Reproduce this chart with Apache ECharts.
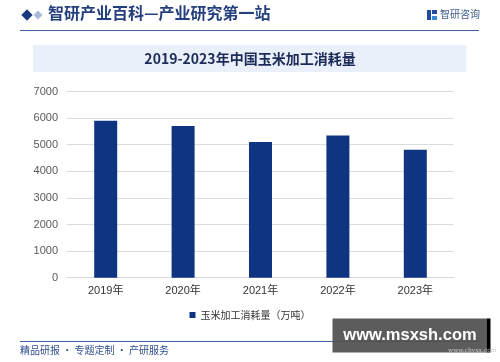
<!DOCTYPE html>
<html>
<head>
<meta charset="utf-8">
<script src="https://cdn.jsdelivr.net/npm/echarts@6/dist/echarts.min.js"></script>
<style>
html,body{margin:0;padding:0;background:#fff;}
#chart{width:500px;height:362px;}
</style>
</head>
<body>
<div id="chart"></div>
<script>
var categories = ['2019年', '2020年', '2021年', '2022年', '2023年'];
var consumption = [5900, 5700, 5100, 5350, 4810];
var seriesName = '玉米加工消耗量（万吨）';
var yTicks = { min: 0, max: 7000, interval: 1000 };
var chartTitle = '2019-2023年中国玉米加工消耗量';
var headerTitle = '智研产业百科—产业研究第一站';
var footerText = '精品研报 · 专题定制 · 产研服务';

var chart = echarts.init(document.getElementById('chart'), null, { renderer: 'canvas' });
var cjk = '"Noto Sans CJK SC", "Noto Sans", sans-serif';

chart.setOption({
  backgroundColor: '#ffffff',
  animation: false,
  textStyle: { fontFamily: cjk },
  grid: { left: 67, right: 46, top: 91.5, bottom: 84.3, containLabel: false },
  legend: {
    data: [seriesName],
    left: 'center',
    top: 305,
    itemWidth: 6,
    itemHeight: 6,
    itemGap: 4,
    icon: 'rect',
    textStyle: { fontSize: 10, color: '#333333', fontFamily: cjk }
  },
  xAxis: {
    type: 'category',
    data: categories,
    axisLine: { show: true, lineStyle: { color: '#d9d9d9' } },
    axisTick: { show: false },
    axisLabel: { color: '#333333', fontSize: 11, margin: 8, fontFamily: 'Arial, "Liberation Sans", ' + cjk }
  },
  yAxis: {
    type: 'value',
    min: yTicks.min,
    max: yTicks.max,
    interval: yTicks.interval,
    axisLine: { show: false },
    axisTick: { show: false },
    axisLabel: { color: '#595959', fontSize: 11, margin: 9, fontFamily: 'Arial, "Liberation Sans", sans-serif',
      formatter: function (v) { return String(v); } },
    splitLine: { lineStyle: { color: '#dcdcdc', width: 1 } }
  },
  series: [{
    name: seriesName,
    type: 'bar',
    data: consumption,
    barWidth: 23,
    itemStyle: { color: '#0f3482' }
  }],
  graphic: [
    { type: 'rect', shape: { x: -4, y: -4, width: 8, height: 8 }, x: 27, y: 15, rotation: Math.PI / 4,
      style: { fill: '#1a3a80' }, silent: true },
    { type: 'rect', shape: { x: -3.2, y: -3.2, width: 6.4, height: 6.4 }, x: 38, y: 15, rotation: Math.PI / 4,
      style: { fill: '#a9b9dc' }, silent: true },
    { type: 'text', left: 48, top: 5,
      style: { text: headerTitle, fill: '#243f7d', font: 'bold 16px ' + cjk } },
    { type: 'rect', shape: { x: 427, y: 10, width: 4, height: 10 }, style: { fill: '#1f4c9c' } },
    { type: 'rect', shape: { x: 432, y: 10, width: 5, height: 4 }, style: { fill: '#1f4c9c' } },
    { type: 'rect', shape: { x: 432, y: 16, width: 5, height: 4 }, style: { fill: '#3a86d8' } },
    { type: 'text', left: 440, top: 9,
      style: { text: '智研咨询', fill: '#3d5a8c', font: '10px ' + cjk } },
    { type: 'line', shape: { x1: 20, y1: 30.5, x2: 479, y2: 30.5 },
      style: { stroke: '#3f5fa5', lineWidth: 1 } },
    { type: 'rect', shape: { x: 33, y: 45, width: 433, height: 27 },
      style: { fill: '#eaf0fa' } },
    { type: 'text', x: 250, y: 58.5,
      style: { text: chartTitle, fill: '#1c2b57', font: 'bold 14px ' + cjk, textAlign: 'center', textVerticalAlign: 'middle' } },
    { type: 'line', shape: { x1: 20, y1: 341.5, x2: 479, y2: 341.5 },
      style: { stroke: '#3f5fa5', lineWidth: 1 } },
    { type: 'text', left: 20, top: 345,
      style: { text: footerText, fill: '#2f4d8c', font: '10px ' + cjk } },
    { type: 'rect', shape: { x: 332.5, y: 318.5, width: 154, height: 34 },
      style: { fill: 'rgba(80,80,80,0.93)' } },
    { type: 'rect', shape: { x: 486.5, y: 318.5, width: 4, height: 34 },
      style: { fill: '#000000' } },
    { type: 'text', x: 410, y: 335.5,
      style: { text: 'www.msxsh.com', fill: '#ffffff', font: 'bold 16.5px "Liberation Sans", Arial, sans-serif', textAlign: 'center', textVerticalAlign: 'middle' } },
    { type: 'text', left: 448, top: 347,
      style: { text: 'www.chyxx.com', fill: '#c8c8c8', font: '6px "DejaVu Serif", serif' } }
  ]
});
</script>
</body>
</html>
